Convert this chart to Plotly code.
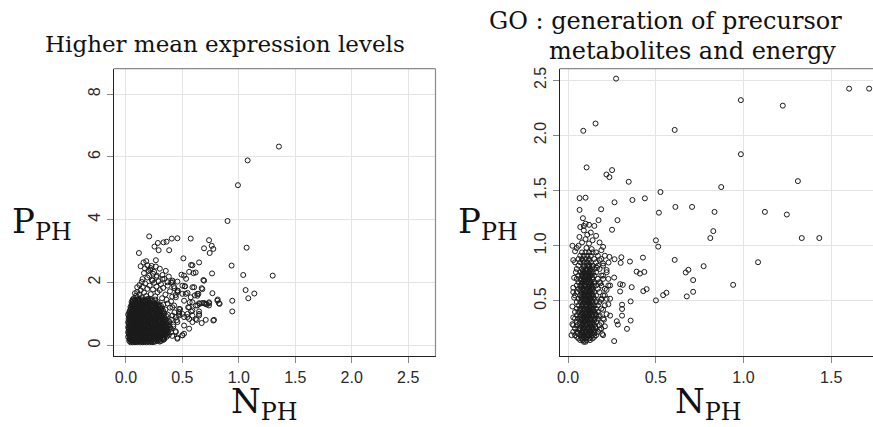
import plotly.graph_objects as go

# ---------------- Left panel: Higher mean expression levels ----------------
# dense core, written as rows: (y, [x values])
hi_core_rows = [
    (0.10, [0.04, 0.06, 0.08, 0.10, 0.13, 0.15, 0.18, 0.21, 0.24]),
    (0.12, [0.05, 0.07, 0.09, 0.115, 0.14, 0.165, 0.195, 0.225, 0.26, 0.3]),
    (0.14, [0.03, 0.05, 0.07, 0.09, 0.11, 0.14, 0.16, 0.19, 0.22, 0.25, 0.28, 0.31]),
    (0.17, [0.04, 0.06, 0.08, 0.10, 0.125, 0.15, 0.175, 0.205, 0.235, 0.265, 0.295, 0.33]),
    (0.20, [0.03, 0.045, 0.06, 0.08, 0.10, 0.12, 0.14, 0.17, 0.20, 0.23, 0.26, 0.29, 0.32, 0.34]),
    (0.235, [0.035, 0.05, 0.07, 0.09, 0.11, 0.13, 0.155, 0.185, 0.215, 0.245, 0.275, 0.305, 0.335]),
    (0.27, [0.02, 0.04, 0.06, 0.08, 0.10, 0.12, 0.15, 0.17, 0.19, 0.22, 0.25, 0.28, 0.30, 0.33, 0.36]),
    (0.305, [0.03, 0.05, 0.07, 0.09, 0.11, 0.135, 0.16, 0.18, 0.205, 0.235, 0.265, 0.29, 0.315, 0.345]),
    (0.34, [0.03, 0.05, 0.07, 0.09, 0.11, 0.13, 0.16, 0.18, 0.21, 0.24, 0.27, 0.29, 0.32, 0.35, 0.38]),
    (0.38, [0.025, 0.045, 0.065, 0.08, 0.1, 0.12, 0.145, 0.17, 0.195, 0.225, 0.255, 0.28, 0.305, 0.335, 0.36]),
    (0.42, [0.02, 0.04, 0.065, 0.085, 0.10, 0.12, 0.14, 0.17, 0.20, 0.22, 0.25, 0.28, 0.31, 0.34, 0.37, 0.40]),
    (0.46, [0.03, 0.05, 0.075, 0.095, 0.11, 0.13, 0.155, 0.185, 0.21, 0.235, 0.265, 0.295, 0.325, 0.355]),
    (0.50, [0.03, 0.05, 0.07, 0.09, 0.11, 0.13, 0.155, 0.18, 0.20, 0.23, 0.26, 0.29, 0.32, 0.35, 0.38]),
    (0.54, [0.025, 0.04, 0.06, 0.08, 0.1, 0.12, 0.14, 0.165, 0.19, 0.215, 0.245, 0.275, 0.305, 0.335, 0.365]),
    (0.58, [0.02, 0.04, 0.06, 0.08, 0.10, 0.12, 0.14, 0.16, 0.19, 0.21, 0.24, 0.27, 0.30, 0.33, 0.36, 0.39]),
    (0.62, [0.03, 0.05, 0.07, 0.09, 0.11, 0.13, 0.15, 0.175, 0.2, 0.225, 0.255, 0.285, 0.315, 0.345, 0.38]),
    (0.66, [0.03, 0.05, 0.07, 0.09, 0.11, 0.13, 0.15, 0.18, 0.20, 0.23, 0.25, 0.28, 0.31, 0.34, 0.37, 0.42]),
    (0.70, [0.025, 0.045, 0.065, 0.085, 0.1, 0.12, 0.14, 0.165, 0.19, 0.215, 0.24, 0.265, 0.295, 0.325, 0.355]),
    (0.74, [0.02, 0.04, 0.06, 0.08, 0.10, 0.12, 0.14, 0.17, 0.19, 0.22, 0.24, 0.27, 0.30, 0.33, 0.36]),
    (0.78, [0.03, 0.05, 0.07, 0.09, 0.11, 0.13, 0.155, 0.18, 0.2, 0.225, 0.255, 0.285, 0.31, 0.34, 0.38]),
    (0.82, [0.03, 0.05, 0.07, 0.09, 0.11, 0.13, 0.16, 0.18, 0.21, 0.23, 0.26, 0.29, 0.32, 0.35, 0.40]),
    (0.86, [0.025, 0.04, 0.06, 0.08, 0.1, 0.12, 0.14, 0.165, 0.19, 0.215, 0.24, 0.27, 0.3, 0.33]),
    (0.90, [0.03, 0.05, 0.075, 0.09, 0.11, 0.13, 0.15, 0.17, 0.20, 0.22, 0.25, 0.28, 0.31, 0.34]),
    (0.94, [0.03, 0.05, 0.065, 0.085, 0.1, 0.12, 0.14, 0.16, 0.185, 0.21, 0.235, 0.26, 0.29, 0.32, 0.355]),
    (0.98, [0.02, 0.04, 0.06, 0.08, 0.10, 0.12, 0.14, 0.16, 0.19, 0.21, 0.24, 0.27, 0.30, 0.33, 0.37]),
    (1.02, [0.03, 0.05, 0.07, 0.09, 0.11, 0.13, 0.15, 0.17, 0.2, 0.22, 0.245, 0.275, 0.305, 0.34]),
    (1.06, [0.03, 0.05, 0.07, 0.09, 0.11, 0.13, 0.15, 0.18, 0.20, 0.23, 0.26, 0.29, 0.32]),
    (1.10, [0.035, 0.055, 0.075, 0.095, 0.115, 0.135, 0.16, 0.185, 0.21, 0.235, 0.265, 0.295, 0.33]),
    (1.14, [0.04, 0.06, 0.08, 0.10, 0.12, 0.14, 0.17, 0.19, 0.22, 0.25, 0.28, 0.31, 0.35]),
    (1.18, [0.045, 0.065, 0.085, 0.105, 0.125, 0.15, 0.175, 0.2, 0.23, 0.26, 0.29, 0.32]),
    (1.22, [0.04, 0.06, 0.08, 0.10, 0.12, 0.14, 0.16, 0.18, 0.21, 0.24, 0.27, 0.30]),
    (1.26, [0.05, 0.07, 0.09, 0.11, 0.13, 0.15, 0.17, 0.195, 0.225, 0.25, 0.28, 0.31]),
    (1.30, [0.05, 0.07, 0.09, 0.11, 0.13, 0.15, 0.17, 0.20, 0.23, 0.26, 0.29, 0.33]),
    (1.34, [0.06, 0.08, 0.1, 0.12, 0.14, 0.16, 0.19, 0.22, 0.25, 0.27]),
    (1.38, [0.05, 0.07, 0.09, 0.11, 0.13, 0.16, 0.18, 0.21, 0.24, 0.28]),
    (1.42, [0.06, 0.08, 0.1, 0.12, 0.15, 0.17, 0.2, 0.23]),
    (1.46, [0.06, 0.08, 0.10, 0.12, 0.14, 0.17, 0.19, 0.22, 0.26]),
]

# scattered points around the core (x, y)
hi_halo_pts = [
    (0.07, 1.50), (0.09, 1.58), (0.11, 1.47), (0.12, 1.62), (0.14, 1.53), (0.16, 1.68),
    (0.13, 1.75), (0.10, 1.70), (0.18, 1.57), (0.20, 1.49), (0.22, 1.63), (0.19, 1.80),
    (0.15, 1.86), (0.12, 1.92), (0.17, 1.97), (0.21, 1.90), (0.24, 1.78), (0.26, 1.56),
    (0.28, 1.69), (0.25, 1.99), (0.23, 2.08), (0.27, 1.87), (0.30, 1.76), (0.31, 1.95),
    (0.29, 2.04), (0.33, 1.83), (0.35, 1.62), (0.34, 2.12), (0.37, 1.90), (0.39, 1.72),
    (0.40, 2.00), (0.43, 1.82), (0.14, 2.02), (0.10, 1.85), (0.08, 1.66), (0.19, 2.16),
    (0.16, 2.30), (0.20, 2.38), (0.24, 2.28), (0.27, 2.18), (0.32, 1.50), (0.36, 1.45),
    (0.41, 1.55), (0.44, 1.60), (0.46, 1.74), (0.38, 2.19), (0.22, 2.46), (0.30, 2.44),
    (0.18, 2.68), (0.13, 2.52), (0.42, 0.60), (0.45, 0.80), (0.44, 0.45), (0.41, 0.30),
    (0.47, 0.95), (0.48, 1.15), (0.43, 1.05), (0.39, 1.20), (0.40, 1.40), (0.37, 1.33),
    (0.156, 2.64), (0.191, 2.55), (0.227, 2.53), (0.265, 2.51), (0.168, 2.45), (0.215, 2.41),
    (0.250, 2.34), (0.353, 2.37), (0.324, 2.24), (0.274, 2.22), (0.206, 2.22), (0.147, 2.11),
    (0.236, 2.06), (0.324, 2.11), (0.368, 2.01), (0.412, 2.06), (0.456, 2.03), (0.515, 2.22),
    (0.560, 2.34), (0.589, 2.55), (0.618, 2.32), (0.692, 2.06), (0.500, 1.90), (0.604, 1.85),
    (0.677, 1.79), (0.456, 1.69), (0.530, 1.64), (0.574, 1.53), (0.633, 1.58), (0.677, 1.35),
    (0.618, 1.27), (0.707, 1.32), (0.648, 1.08), (0.589, 0.95), (0.545, 0.90), (0.456, 0.74),
    (0.515, 0.63), (0.442, 0.42), (0.456, 0.21), (0.500, 0.32), (0.545, 1.00), (0.427, 1.27),
    (0.412, 0.95), (0.383, 0.74), (0.471, 1.06), (0.398, 0.53), (0.368, 0.32),
    (0.412, 2.01), (0.424, 1.88), (0.524, 1.88), (0.589, 1.85), (0.671, 1.82), (0.456, 1.74),
    (0.500, 1.64), (0.545, 1.67), (0.633, 1.64), (0.442, 1.53), (0.515, 1.42), (0.589, 1.37),
    (0.648, 1.34), (0.692, 1.34), (0.736, 1.34), (0.736, 1.27), (0.810, 1.42), (0.824, 1.34),
    (0.412, 1.21), (0.471, 1.16), (0.560, 1.21), (0.633, 1.27), (0.589, 1.11), (0.648, 1.00),
    (0.500, 1.00), (0.442, 0.90), (0.560, 0.84), (0.618, 0.84), (0.707, 0.81), (0.780, 0.81),
]

# outliers (x, y)
hi_outlier_pts = [
    (1.355, 6.33), (1.078, 5.89), (0.992, 5.10), (0.900, 3.96), (0.206, 3.47), (0.456, 3.41),
    (0.406, 3.40), (0.574, 3.40), (0.736, 3.35), (0.333, 3.28), (0.360, 3.30), (0.283, 3.26),
    (0.760, 3.17), (0.692, 3.09), (0.774, 3.07), (1.069, 3.11), (0.253, 3.145), (0.290, 3.03),
    (0.383, 3.03), (0.742, 2.94), (0.115, 2.94), (0.509, 2.77), (0.265, 2.71), (0.648, 2.64),
    (0.577, 2.56), (0.936, 2.54), (0.598, 2.30), (0.763, 2.29), (1.039, 2.24), (1.300, 2.22),
    (0.492, 2.25), (0.533, 2.12), (0.686, 2.08), (0.521, 1.88), (1.060, 1.76), (1.137, 1.65),
    (0.766, 1.66), (0.642, 1.64), (0.610, 1.59), (1.084, 1.50), (0.942, 1.42), (0.813, 1.46),
    (0.830, 1.32), (0.736, 1.37), (0.716, 1.30), (0.692, 1.34), (0.654, 1.32), (0.942, 1.08),
    (0.774, 0.79), (0.671, 0.71), (0.627, 0.81), (0.589, 0.74), (0.648, 0.95), (0.577, 1.08),
    (0.551, 1.21), (0.565, 1.37), (0.515, 0.90), (0.471, 1.00), (0.456, 0.24), (0.515, 0.37),
    (0.500, 0.32), (0.560, 0.53),
]

# ---------------- Right panel: GO generation of precursor metabolites and energy ----------------
go_core_rows = [
    (0.13, [0.09, 0.10]),
    (0.145, [0.07, 0.085, 0.105, 0.125]),
    (0.16, [0.06, 0.08, 0.10, 0.12, 0.14]),
    (0.175, [0.05, 0.075, 0.09, 0.11, 0.13, 0.15]),
    (0.19, [0.04, 0.07, 0.09, 0.11, 0.12, 0.14, 0.16, 0.20]),
    (0.205, [0.055, 0.08, 0.1, 0.115, 0.135, 0.15]),
    (0.22, [0.03, 0.05, 0.08, 0.09, 0.10, 0.12, 0.13, 0.15, 0.17]),
    (0.235, [0.065, 0.085, 0.105, 0.125, 0.145]),
    (0.25, [0.04, 0.06, 0.07, 0.09, 0.11, 0.12, 0.14, 0.16, 0.19]),
    (0.265, [0.075, 0.095, 0.115, 0.135, 0.155]),
    (0.28, [0.03, 0.05, 0.08, 0.10, 0.11, 0.13, 0.15, 0.18]),
    (0.295, [0.065, 0.085, 0.105, 0.125, 0.145]),
    (0.31, [0.05, 0.07, 0.09, 0.10, 0.12, 0.14, 0.16]),
    (0.325, [0.075, 0.095, 0.11, 0.13, 0.15]),
    (0.34, [0.04, 0.06, 0.08, 0.10, 0.11, 0.13, 0.15, 0.17, 0.20]),
    (0.355, [0.07, 0.09, 0.105, 0.12, 0.14]),
    (0.37, [0.05, 0.07, 0.09, 0.11, 0.12, 0.14, 0.16, 0.18]),
    (0.385, [0.08, 0.1, 0.115, 0.135, 0.155]),
    (0.40, [0.04, 0.06, 0.08, 0.10, 0.12, 0.13, 0.15, 0.17]),
    (0.415, [0.07, 0.09, 0.11, 0.125, 0.145]),
    (0.43, [0.05, 0.07, 0.09, 0.11, 0.13, 0.14, 0.16, 0.19]),
    (0.445, [0.08, 0.1, 0.12, 0.135]),
    (0.46, [0.06, 0.08, 0.10, 0.11, 0.13, 0.15, 0.17, 0.21]),
    (0.475, [0.085, 0.105, 0.12, 0.14]),
    (0.49, [0.05, 0.07, 0.09, 0.11, 0.12, 0.14, 0.16, 0.18]),
    (0.505, [0.08, 0.1, 0.115, 0.135]),
    (0.52, [0.06, 0.08, 0.10, 0.12, 0.13, 0.15, 0.19, 0.22]),
    (0.535, [0.075, 0.09, 0.11, 0.125, 0.145]),
    (0.55, [0.04, 0.07, 0.09, 0.11, 0.12, 0.14, 0.16, 0.20]),
    (0.565, [0.08, 0.1, 0.115, 0.135]),
    (0.58, [0.03, 0.05, 0.08, 0.10, 0.12, 0.13, 0.15, 0.18]),
    (0.595, [0.07, 0.09, 0.105, 0.125, 0.14]),
    (0.61, [0.06, 0.08, 0.09, 0.11, 0.13, 0.14, 0.17, 0.21]),
    (0.625, [0.075, 0.1, 0.12, 0.135]),
    (0.64, [0.05, 0.07, 0.09, 0.10, 0.12, 0.14, 0.16, 0.19, 0.23]),
    (0.655, [0.08, 0.095, 0.115, 0.13, 0.15]),
    (0.67, [0.06, 0.08, 0.10, 0.12, 0.13, 0.15, 0.18]),
    (0.685, [0.075, 0.09, 0.11, 0.125]),
    (0.70, [0.05, 0.07, 0.09, 0.11, 0.12, 0.14, 0.17, 0.20]),
    (0.715, [0.085, 0.1, 0.12, 0.14]),
    (0.73, [0.06, 0.08, 0.10, 0.11, 0.13, 0.15, 0.19]),
    (0.745, [0.08, 0.095, 0.115, 0.13]),
    (0.76, [0.07, 0.09, 0.10, 0.12, 0.14, 0.16, 0.22]),
    (0.775, [0.085, 0.105, 0.125]),
    (0.79, [0.05, 0.08, 0.10, 0.11, 0.13, 0.15, 0.18]),
    (0.805, [0.09, 0.12, 0.14]),
    (0.82, [0.06, 0.09, 0.11, 0.12, 0.14, 0.17, 0.20]),
    (0.85, [0.04, 0.07, 0.09, 0.11, 0.13, 0.16]),
    (0.865, [0.085, 0.12]),
    (0.88, [0.06, 0.08, 0.10, 0.12, 0.15, 0.19]),
    (0.91, [0.07, 0.09, 0.11, 0.13, 0.17]),
    (0.94, [0.08, 0.10, 0.12, 0.14, 0.16]),
]

go_halo_pts = [
    (0.06, 1.00), (0.08, 1.03), (0.10, 1.06), (0.12, 1.02), (0.14, 1.05), (0.16, 1.09),
    (0.11, 1.10), (0.13, 1.12), (0.09, 1.14), (0.07, 1.17), (0.09, 1.18), (0.10, 1.20),
    (0.12, 1.19), (0.085, 1.25), (0.15, 1.18), (0.065, 1.08), (0.18, 1.03), (0.20, 0.99),
    (0.135, 0.97), (0.105, 0.98), (0.19, 0.96), (0.21, 0.91), (0.18, 0.87), (0.20, 0.84),
    (0.22, 0.78), (0.23, 0.70), (0.24, 0.64), (0.22, 0.60), (0.21, 0.55), (0.24, 0.52),
    (0.23, 0.47), (0.20, 0.42), (0.22, 0.38), (0.19, 0.30), (0.21, 0.27), (0.18, 0.24),
    (0.03, 0.35), (0.02, 0.19), (0.025, 0.45), (0.03, 0.62), (0.035, 0.71), (0.03, 0.87),
    (0.04, 0.95), (0.05, 0.98), (0.185, 0.66), (0.2, 0.73), (0.19, 0.51), (0.175, 0.36),
    (0.195, 0.2), (0.205, 0.33), (0.165, 0.8), (0.025, 0.29), (0.035, 0.53), (0.045, 0.76),
]

go_outlier_pts = [
    (0.274, 2.515), (1.602, 2.424), (1.716, 2.424), (0.985, 2.32), (1.224, 2.27), (0.157, 2.108),
    (0.087, 2.042), (0.608, 2.05), (0.985, 1.83), (0.106, 1.71), (0.251, 1.686), (0.219, 1.646),
    (0.236, 1.622), (0.346, 1.58), (1.310, 1.586), (0.873, 1.532), (0.527, 1.487), (0.066, 1.432),
    (0.100, 1.436), (0.438, 1.43), (0.367, 1.415), (0.265, 1.394), (0.612, 1.352), (0.707, 1.352),
    (0.835, 1.307), (0.518, 1.30), (1.122, 1.307), (1.247, 1.283), (0.066, 1.325), (0.189, 1.331),
    (0.282, 1.232), (0.174, 1.232), (0.251, 1.145), (0.828, 1.133), (0.811, 1.07), (1.332, 1.07),
    (1.432, 1.07), (0.501, 1.049), (0.514, 0.992), (0.427, 0.893), (0.304, 0.896), (0.236, 0.899),
    (0.265, 0.878), (0.231, 0.848), (0.300, 0.845), (0.353, 0.857), (0.608, 0.872), (1.083, 0.851),
    (0.773, 0.815), (0.686, 0.782), (0.671, 0.758), (0.713, 0.689), (0.391, 0.766), (0.410, 0.748),
    (0.435, 0.763), (0.263, 0.712), (0.941, 0.646), (0.297, 0.652), (0.312, 0.646), (0.363, 0.625),
    (0.448, 0.607), (0.429, 0.589), (0.297, 0.586), (0.713, 0.583), (0.561, 0.574), (0.542, 0.553),
    (0.677, 0.541), (0.501, 0.505), (0.357, 0.496), (0.308, 0.466), (0.308, 0.427), (0.240, 0.367),
    (0.308, 0.367), (0.278, 0.316), (0.357, 0.322), (0.284, 0.286), (0.336, 0.247), (0.263, 0.136),
    (0.025, 1.000),
]

# axis ticks
hi_xticks = [0.0, 0.5, 1.0, 1.5, 2.0, 2.5]
hi_xlabels = ["0.0", "0.5", "1.0", "1.5", "2.0", "2.5"]
hi_yticks = [0, 2, 4, 6, 8]
hi_ylabels = ["0", "2", "4", "6", "8"]
go_xticks = [0.0, 0.5, 1.0, 1.5]
go_xlabels = ["0.0", "0.5", "1.0", "1.5"]
go_yticks = [0.5, 1.0, 1.5, 2.0, 2.5]
go_ylabels = ["0.5", "1.0", "1.5", "2.0", "2.5"]

titles = ["Higher mean expression levels", "GO : generation of precursor", "metabolites and energy"]


def flatten(rows, pts):
    xs, ys = [], []
    for yv, xl in rows:
        for xv in xl:
            xs.append(xv)
            ys.append(yv)
    for xv, yv in pts:
        xs.append(xv)
        ys.append(yv)
    return xs, ys


hx, hy = flatten(hi_core_rows, hi_halo_pts + hi_outlier_pts)
gx, gy = flatten(go_core_rows, go_halo_pts + go_outlier_pts)

W, H = 873, 427


def fx(xp):
    return xp / W


def fy(yp):
    return 1 - yp / H


marker = dict(symbol="circle-open", size=5, color="#1a1a1a", line=dict(width=1, color="#1a1a1a"))

fig = go.Figure()
fig.add_trace(go.Scatter(x=hx, y=hy, mode="markers", marker=marker, xaxis="x", yaxis="y",
                         showlegend=False, hoverinfo="skip"))
fig.add_trace(go.Scatter(x=gx, y=gy, mode="markers", marker=marker, xaxis="x2", yaxis="y2",
                         showlegend=False, hoverinfo="skip"))

tickfont = dict(family="Liberation Sans, Arial, sans-serif", size=16, color="#2a2a2a")
common = dict(showgrid=True, gridcolor="#e4e4e4", gridwidth=1, zeroline=False,
              showline=True, linecolor="#222222", linewidth=1,
              ticks="outside", ticklen=6, tickcolor="#888888", tickfont=tickfont)

fig.update_layout(
    width=W, height=H,
    margin=dict(l=0, r=0, t=0, b=0),
    paper_bgcolor="white", plot_bgcolor="white",
    xaxis=dict(domain=[fx(111), fx(434)], range=[-0.109, 2.742], anchor="y",
               tickvals=hi_xticks, ticktext=hi_xlabels, **common),
    yaxis=dict(domain=[fy(356), fy(67)], range=[-0.35, 8.81], anchor="x",
               tickvals=hi_yticks, ticktext=hi_ylabels, tickangle=-90, **common),
    xaxis2=dict(domain=[fx(558.5), 1.0], range=[-0.048, 1.738], anchor="y2",
                tickvals=go_xticks, ticktext=go_xlabels, **common),
    yaxis2=dict(domain=[fy(356), fy(67)], range=[-0.002, 2.605], anchor="x2",
                tickvals=go_yticks, ticktext=go_ylabels, tickangle=-90, **common),
)

# gray top/right box edges
box = dict(type="line", line=dict(color="#8a8a8a", width=1.2), layer="above")
fig.add_shape(xref="x domain", yref="y domain", x0=0, x1=1, y0=1, y1=1, **box)
fig.add_shape(xref="x domain", yref="y domain", x0=1, x1=1, y0=0, y1=1, **box)
fig.add_shape(xref="x2 domain", yref="y2 domain", x0=0, x1=1, y0=1, y1=1, **box)

serif = "DejaVu Serif, Liberation Serif, serif"
tfont_l = dict(family=serif, size=23, color="#111")
tfont_r = dict(family=serif, size=24, color="#111")
lab_font = dict(family=serif, size=34, color="#111")


def note(text, xp, yp, font):
    return dict(text=text, x=fx(xp), y=fy(yp), xref="paper", yref="paper", xanchor="center",
                yanchor="middle", showarrow=False, font=font, borderpad=0)


ann = [
    note(titles[0], 223, 42, tfont_l),
    note(titles[1], 665, 19, tfont_r),
    note(titles[2], 692, 49, tfont_r),
    note("P<sub>PH</sub>", 39, 223, lab_font),
    note("N<sub>PH</sub>", 262, 403, lab_font),
    note("P<sub>PH</sub>", 487, 223, lab_font),
    note("N<sub>PH</sub>", 708, 403, lab_font),
]
fig.update_layout(annotations=ann)

# remove the default page margin so the 873x427 figure fills the window exactly
page_js = "document.body.style.margin='0';document.body.style.overflow='hidden';"
fig.write_html("out.html", post_script=page_js, config={"displayModeBar": False})
